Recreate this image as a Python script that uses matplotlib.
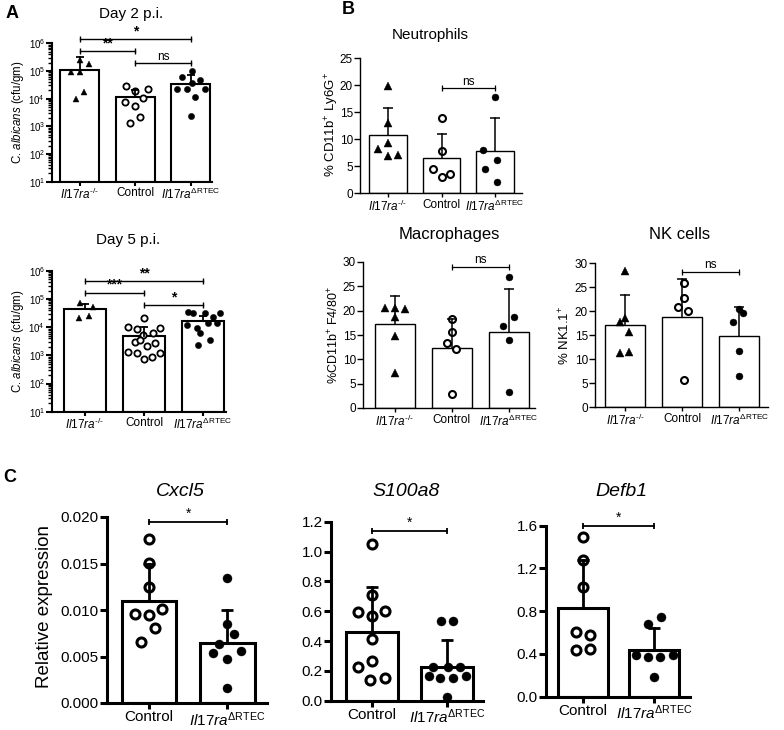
import matplotlib
matplotlib.use('Agg')
import matplotlib.pyplot as plt
from matplotlib.ticker import FormatStrFormatter, LogLocator, NullFormatter

plt.rcParams['font.family'] = ['Liberation Sans', 'DejaVu Sans']
plt.rcParams['mathtext.fontset'] = 'custom'
plt.rcParams['mathtext.rm'] = 'Liberation Sans'
plt.rcParams['mathtext.it'] = 'Liberation Sans:italic'
plt.rcParams['mathtext.bf'] = 'Liberation Sans:bold'

KO = r'$\mathit{Il17ra}^{\text{-/-}}$'
RTEC = r'$\mathit{Il17ra}^{\Delta\mathrm{RTEC}}$'
CTRL = 'Control'

# ---- panel A: C. albicans burden (cfu/gm) ----
day2_means = [1.05e5, 1.15e4, 3.4e4]
day2_caps = [3.2e5, 2.05e4, 7.2e4]
day2_ko = [2.5e5, 1.8e5, 9.2e4, 9.2e4, 1.7e4, 9.8e3]
day2_ctrl = [2.9e4, 1.9e4, 2.3e4, 1.07e4, 7.6e3, 5.5e3, 2.2e3, 1.3e3]
day2_rtec = [1.0e5, 6.1e4, 4.7e4, 3.7e4, 2.3e4, 2.3e4, 2.3e4, 1.15e4, 2.4e3]
day2_sig = [(0, 2, 1.4e6, '*'), (0, 1, 5.3e5, '**'), (1, 2, 1.9e5, 'ns')]

day5_means = [4.5e4, 5.0e3, 1.7e4]
day5_caps = [6.8e4, 1.0e4, 2.5e4]
day5_ko = [7.4e4, 5.3e4, 2.1e4, 2.5e4]
day5_ctrl = [2.2e4, 1.0e4, 8.8e3, 9.5e3, 5.4e3, 6.3e3, 3.0e3, 2.8e3, 2.2e3,
             1.35e3, 1.25e3, 1.25e3, 9.0e2, 7.6e2, 3.6e3]
day5_rtec = [3.5e4, 3.3e4, 3.3e4, 2.3e4, 3.3e4, 1.4e4, 1.4e4, 1.2e4, 9.5e3,
             6.3e3, 3.6e3, 2.4e3]
day5_sig = [(0, 2, 4.4e5, '**'), (0, 1, 1.7e5, '***'), (1, 2, 6.2e4, '*')]

# ---- panel B: flow cytometry (%) ----
neu_means = [10.7, 6.4, 7.7]
neu_caps = [15.8, 11.0, 13.8]
neu_ko = [19.8, 13.0, 9.2, 8.2, 6.9, 7.1]
neu_ctrl = [13.8, 7.7, 4.5, 3.0, 3.5]
neu_rtec = [17.8, 7.9, 6.1, 4.5, 2.1]
neu_sig = [(1, 2, 19.4, 'ns')]

mac_means = [17.2, 12.3, 15.6]
mac_caps = [23.0, 18.3, 24.4]
mac_ko = [20.5, 20.3, 20.5, 18.7, 14.8, 7.2]
mac_ctrl = [18.3, 15.6, 13.3, 12.1, 2.9]
mac_rtec = [26.9, 18.7, 16.8, 14.0, 3.3]
mac_sig = [(1, 2, 29.0, 'ns')]

nk_means = [17.1, 18.7, 14.8]
nk_caps = [23.4, 26.6, 20.8]
nk_ko = [28.3, 18.5, 17.7, 15.6, 11.2, 11.5]
nk_ctrl = [25.8, 22.7, 20.8, 20.0, 5.6]
nk_rtec = [20.4, 19.6, 17.7, 11.7, 6.5]
nk_sig = [(1, 2, 28.1, 'ns')]

# ---- panel C: relative expression ----
cxcl5_means = [0.0110, 0.00649]
cxcl5_caps = [0.01495, 0.0100]
cxcl5_ctrl = [0.01763, 0.01509, 0.01244, 0.00957, 0.00946, 0.0101, 0.00806, 0.00659]
cxcl5_rtec = [0.0134, 0.00846, 0.00742, 0.00634, 0.00541, 0.00563, 0.0047, 0.00165]
cxcl5_sig = [(0, 1, 0.0195, '*')]

s100_means = [0.462, 0.228]
s100_caps = [0.764, 0.407]
s100_ctrl = [1.048, 0.708, 0.592, 0.57, 0.603, 0.413, 0.224, 0.266, 0.139, 0.15]
s100_rtec = [0.536, 0.536, 0.228, 0.228, 0.228, 0.166, 0.15, 0.15, 0.166, 0.023]
s100_sig = [(0, 1, 1.14, '*')]

defb_means = [0.827, 0.437]
defb_caps = [1.279, 0.64]
defb_ctrl = [1.491, 1.279, 1.023, 0.602, 0.577, 0.437, 0.443]
defb_rtec = [0.748, 0.68, 0.39, 0.374, 0.374, 0.39, 0.187]
defb_sig = [(0, 1, 1.6, '*')]

# horizontal scatter of the dots (pixels from bar centre)
day2_dx = [[0, 9, -9, 0, 4, -4], [-9, 0, 13, 8, -10, 0, 5, -5],
           [1, -9, 9, 1, -14, -4, 14, 4, 0]]
day5_dx = [[-5, 8, -6, 4], [0, -16, -7, 16, -1, 9, -9, 11, 3, -16, -7, 16, 8, 0, -4],
           [-15, -10, 2, 10, 17, 5, 14, -16, -6, -3, 7, -5]]
neu_dx = [[0, 0, 0, -10, 0, 10], [0, 0, -9, 0, 8], [0, -12, 2, -10, 2]]
mac_dx = [[-10, 10, 0, 0, 0, 0], [0, 0, -5, 4, 0], [0, 5, -6, 0, 0]]
nk_dx = [[0, 0, -5, 4, -5, 4], [2, 2, -4, 6, 2], [0, 4, -6, 0, 0]]
cxcl5_dx = [[0, 0, 0, -14, 0, 13, 6, -8], [0, 0, 7, -8, -14, 14, 0, 0]]
s100_dx = [[0, 0, -14, 0, 13, 0, -14, 0, -2, 13], [-6, 6, -14, 1, 13, -18, -7, 6, 19, 0]]
defb_dx = [[0, 0, 0, -7, 7, -7, 7], [7, -6, -18, -6, 6, 19, 0]]

W, H = 784, 730
fig = plt.figure(figsize=(W / 100, H / 100), dpi=100)

STYLE_A = dict(lw=1.5, ms=4.5, mew=1.3, cap=6, elw=1.3, tfs=8.5, yfs=7, blw=1.0, sfs=10, tl=3)
STYLE_B = dict(lw=1.0, ms=5, mew=1.5, cap=7, elw=1.1, tfs=8.5, yfs=8.5, blw=0.9, sfs=9, tl=3)
STYLE_C = dict(lw=2.2, ms=6.5, mew=2.2, cap=9, elw=2.0, tfs=11, yfs=11, blw=1.3, sfs=10, tl=4)


def draw(box, xlim, ylim, means, caps, groups, dxs, kinds, labels, st, sig, log=False):
    x0, y0, x1, y1 = box
    ax = fig.add_axes([x0 / W, 1 - y1 / H, (x1 - x0) / W, (y1 - y0) / H])
    ppu = (x1 - x0) / (xlim[1] - xlim[0])
    xs = list(range(len(means)))
    if log:
        ax.set_yscale('log')
    base = ylim[0]
    ax.bar(xs, [m - base for m in means], bottom=base, width=0.7, color='white',
           edgecolor='black', linewidth=st['lw'], zorder=1)
    for i, (vals, dx, kind) in enumerate(zip(groups, dxs, kinds)):
        px = [i + d / ppu for d in dx]
        if kind == 'tri':
            ax.plot(px, vals, ls='none', marker='^', ms=st['ms'] * 1.05, mfc='black',
                    mec='black', mew=0.3, zorder=2, clip_on=False)
        elif kind == 'open':
            ax.plot(px, vals, ls='none', marker='o', ms=st['ms'], mfc='white',
                    mec='black', mew=st['mew'], zorder=2, clip_on=False)
        else:
            ax.plot(px, vals, ls='none', marker='o', ms=st['ms'], mfc='black',
                    mec='black', mew=0.3, zorder=2, clip_on=False)
        ax.plot([i, i], [means[i], caps[i]], color='black', lw=st['elw'], zorder=3)
        ax.plot([i], [caps[i]], marker='_', ms=st['cap'], mew=st['elw'], color='black', zorder=3)
    for a, b, y, txt in sig:
        ax.plot([a, b], [y, y], color='black', lw=st['blw'], marker='|', ms=5,
                mew=st['blw'], clip_on=False)
        ax.annotate(txt, xy=((a + b) / 2, y), xytext=(0, 0.5), textcoords='offset points',
                    ha='center', va='bottom', fontsize=st['sfs'] if txt != 'ns' else st['tfs'],
                    fontweight='bold' if (txt != 'ns' and st is STYLE_A) else 'normal',
                    annotation_clip=False)
    ax.set_xlim(*xlim)
    ax.set_ylim(*ylim)
    ax.set_xticks(xs, labels)
    for s in ('top', 'right'):
        ax.spines[s].set_visible(False)
    for s in ('left', 'bottom'):
        ax.spines[s].set_linewidth(st['lw'])
    ax.tick_params(axis='x', length=st['tl'], width=st['lw'], pad=1, labelsize=st['tfs'])
    ax.tick_params(axis='y', length=st['tl'] + 1, width=st['lw'], pad=1, labelsize=st['yfs'])
    if log:
        ax.yaxis.set_major_locator(LogLocator(10, numticks=10))
        ax.yaxis.set_minor_locator(LogLocator(10, subs=range(2, 10), numticks=50))
        ax.yaxis.set_minor_formatter(NullFormatter())
        ax.tick_params(axis='y', which='minor', length=3, width=1.0)
    return ax


# panel A
draw((52, 43.3, 212, 181.7), (-0.5, 2.38), (10, 1e6), day2_means, day2_caps,
     [day2_ko, day2_ctrl, day2_rtec], day2_dx, ['tri', 'open', 'fill'],
     [KO, CTRL, RTEC], STYLE_A, day2_sig, log=True)
draw((52, 271, 226, 411.7), (-0.56, 2.39), (10, 1e6), day5_means, day5_caps,
     [day5_ko, day5_ctrl, day5_rtec], day5_dx, ['tri', 'open', 'fill'],
     [KO, CTRL, RTEC], STYLE_A, day5_sig, log=True)

# panel B
ax = draw((360, 58, 522, 193), (-0.52, 2.5), (0, 25), neu_means, neu_caps,
          [neu_ko, neu_ctrl, neu_rtec], neu_dx, ['tri', 'open', 'fill'],
          [KO, CTRL, RTEC], STYLE_B, neu_sig)
ax.set_yticks([0, 5, 10, 15, 20, 25])
ax = draw((363, 262, 535, 408), (-0.56, 2.46), (0, 30), mac_means, mac_caps,
          [mac_ko, mac_ctrl, mac_rtec], mac_dx, ['tri', 'open', 'fill'],
          [KO, CTRL, RTEC], STYLE_B, mac_sig)
ax.set_yticks([0, 5, 10, 15, 20, 25, 30])
ax = draw((595, 263, 768, 407), (-0.53, 2.5), (0, 30), nk_means, nk_caps,
          [nk_ko, nk_ctrl, nk_rtec], nk_dx, ['tri', 'open', 'fill'],
          [KO, CTRL, RTEC], STYLE_B, nk_sig)
ax.set_yticks([0, 5, 10, 15, 20, 25, 30])

# panel C
ax = draw((107, 517, 267, 703), (-0.54, 1.51), (0, 0.02), cxcl5_means, cxcl5_caps,
          [cxcl5_ctrl, cxcl5_rtec], cxcl5_dx, ['open', 'fill'], [CTRL, RTEC], STYLE_C, cxcl5_sig)
ax.set_yticks([0, 0.005, 0.01, 0.015, 0.02])
ax.yaxis.set_major_formatter(FormatStrFormatter('%.3f'))
ax = draw((331, 521.7, 483, 700.7), (-0.55, 1.48), (0, 1.2), s100_means, s100_caps,
          [s100_ctrl, s100_rtec], s100_dx, ['open', 'fill'], [CTRL, RTEC], STYLE_C, s100_sig)
ax.set_yticks([0, 0.2, 0.4, 0.6, 0.8, 1.0, 1.2])
ax.yaxis.set_major_formatter(FormatStrFormatter('%.1f'))
ax = draw((546, 525.7, 690, 696.7), (-0.52, 1.5), (0, 1.6), defb_means, defb_caps,
          [defb_ctrl, defb_rtec], defb_dx, ['open', 'fill'], [CTRL, RTEC], STYLE_C, defb_sig)
ax.set_yticks([0, 0.4, 0.8, 1.2, 1.6])
ax.yaxis.set_major_formatter(FormatStrFormatter('%.1f'))


def ftext(x, y, s, **kw):
    fig.text(x / W, 1 - y / H, s, ha='center', va='center', **kw)


# panel letters and titles
ftext(12, 13, 'A', fontsize=13, fontweight='bold')
ftext(348, 10, 'B', fontsize=13, fontweight='bold')
ftext(10, 477, 'C', fontsize=13, fontweight='bold')
ftext(131, 14, 'Day 2 p.i.', fontsize=11)
ftext(128, 240, 'Day 5 p.i.', fontsize=11)
ftext(430, 35, 'Neutrophils', fontsize=11)
ftext(449, 235, 'Macrophages', fontsize=12)
ftext(680, 235, 'NK cells', fontsize=12)
ftext(180, 492, 'Cxcl5', fontsize=14, style='italic')
ftext(406, 491, 'S100a8', fontsize=14, style='italic')
ftext(621, 491, 'Defb1', fontsize=14, style='italic')

# y-axis labels
ylab_a = r'C. $\mathit{albicans}$ (cfu/gm)'
ftext(18, 112, ylab_a, fontsize=8.3, rotation=90)
ftext(18, 341, ylab_a, fontsize=8.3, rotation=90)
ftext(332, 125, r'% CD11b$^{+}$ Ly6G$^{+}$', fontsize=9.5, rotation=90)
ftext(334, 335, r'%CD11b$^{+}$ F4/80$^{+}$', fontsize=9, rotation=90)
ftext(565, 335, r'% NK1.1$^{+}$', fontsize=9.5, rotation=90)
ftext(45, 607, 'Relative expression', fontsize=13.5, rotation=90)

fig.savefig('out.png', dpi=100)
